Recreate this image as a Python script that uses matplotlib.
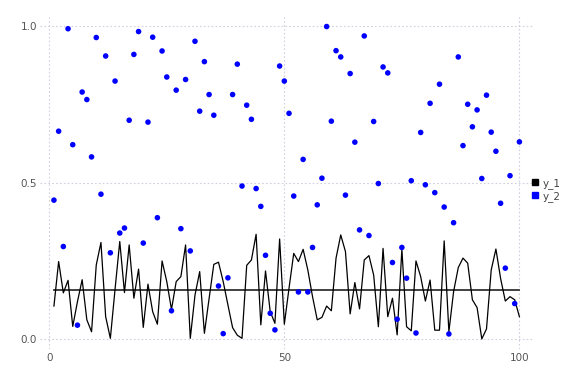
import matplotlib
matplotlib.use("Agg")
import matplotlib.pyplot as plt
import numpy as np

x = list(range(1, 101))

y_1 = [0.106, 0.248, 0.148, 0.188, 0.041, 0.12, 0.19, 0.062, 0.024, 0.237,
       0.309, 0.072, 0.003, 0.16, 0.312, 0.149, 0.301, 0.131, 0.224, 0.038,
       0.176, 0.088, 0.048, 0.250, 0.184, 0.095, 0.184, 0.200, 0.301, 0.003,
       0.141, 0.216, 0.019, 0.13, 0.239, 0.246, 0.184, 0.110, 0.037, 0.013,
       0.003, 0.236, 0.253, 0.335, 0.046, 0.218, 0.088, 0.051, 0.320, 0.048,
       0.163, 0.274, 0.248, 0.287, 0.221, 0.136, 0.062, 0.070, 0.106, 0.091,
       0.259, 0.333, 0.280, 0.081, 0.181, 0.097, 0.253, 0.267, 0.205, 0.040,
       0.290, 0.072, 0.131, 0.014, 0.287, 0.040, 0.027, 0.250, 0.200, 0.122,
       0.189, 0.029, 0.029, 0.314, 0.024, 0.152, 0.229, 0.259, 0.243, 0.126,
       0.101, 0.001, 0.033, 0.221, 0.288, 0.194, 0.122, 0.136, 0.126, 0.072]

y_2 = [0.444, 0.664, 0.296, 0.991, 0.621, 0.045, 0.789, 0.765, 0.582, 0.963,
       0.463, 0.904, 0.276, 0.824, 0.339, 0.355, 0.699, 0.909, 0.982, 0.307,
       0.693, 0.964, 0.388, 0.920, 0.837, 0.091, 0.795, 0.353, 0.829, 0.282,
       0.951, 0.728, 0.886, 0.781, 0.715, 0.170, 0.018, 0.196, 0.781, 0.878,
       0.489, 0.747, 0.702, 0.481, 0.424, 0.268, 0.083, 0.030, 0.872, 0.824,
       0.721, 0.457, 0.151, 0.574, 0.151, 0.293, 0.429, 0.514, 0.998, 0.696,
       0.921, 0.901, 0.460, 0.848, 0.629, 0.349, 0.968, 0.331, 0.695, 0.497,
       0.869, 0.850, 0.245, 0.064, 0.293, 0.195, 0.506, 0.020, 0.660, 0.493,
       0.753, 0.468, 0.814, 0.422, 0.017, 0.372, 0.901, 0.618, 0.750, 0.678,
       0.732, 0.513, 0.779, 0.661, 0.600, 0.434, 0.227, 0.522, 0.114, 0.630]

ref_level = 0.156

xticks = [0, 50, 100]
yticks = [0.0, 0.5, 1.0]
ytick_labels = ["0.0", "0.5", "1.0"]

fig = plt.figure(figsize=(5.76, 3.84), dpi=100)
ax = fig.add_axes([0.0694, 0.092, 0.8566, 0.865])

ax.plot(x, y_1, color="black", linewidth=0.9, label="y_1", zorder=3)
ax.plot([x[0], x[-1]], [ref_level, ref_level], color="#333333", linewidth=1.3, zorder=2)
ax.scatter(x, y_2, s=16, color="#0000ff", edgecolors="none", label="y_2", zorder=4)

xmin, xmax = min(x), max(x)
ax.set_xlim(xmin - 0.03 * (xmax - xmin), xmax + 0.03 * (xmax - xmin))
ax.set_ylim(-0.03, 1.03)
ax.set_xticks(xticks)
ax.set_yticks(yticks)
ax.set_yticklabels(ytick_labels)

for s in ax.spines.values():
    s.set_visible(False)
ax.grid(True, color="#d0d0de", linestyle=(0, (1.5, 2)), linewidth=0.8)
ax.set_axisbelow(True)
ax.tick_params(axis="both", length=0, labelsize=7.5, labelcolor="#555555")
ax.tick_params(axis="x", pad=3)
ax.tick_params(axis="y", pad=2)

handles = [
    plt.Line2D([], [], marker="s", color="black", linestyle="none", markersize=4.5),
    plt.Line2D([], [], marker="s", color="#0000ff", linestyle="none", markersize=4.5),
]
fig.legend(handles, ["y_1", "y_2"], loc="center left", bbox_to_anchor=(0.915, 0.506),
           frameon=False, fontsize=7.5, handlelength=0.8, handletextpad=0.3,
           labelspacing=0.2, labelcolor="#444444", borderaxespad=0)

fig.savefig("out.png", dpi=100)
